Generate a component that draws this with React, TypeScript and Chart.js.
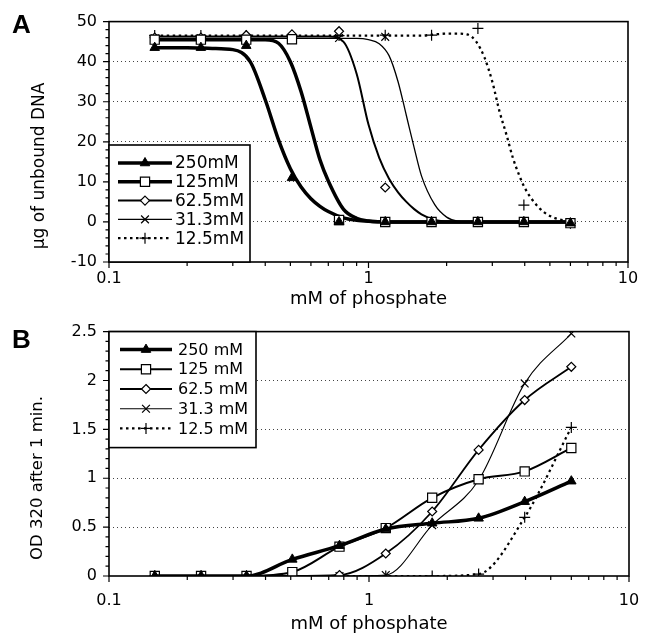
import React, { useEffect, useRef } from 'react';
import { Chart, registerables } from 'chart.js';

Chart.register(...registerables);

const FONT = "'DejaVu Sans', sans-serif";

// ---------- shared axis values ----------
const X_TICKS = [0.1, 1, 10];
const X_TICK_LABELS = ['0.1', '1', '10'];
const X_AXIS_TITLE = 'mM of phosphate';

// concentrations of the measured points
const X_POINTS = [0.15, 0.226, 0.338, 0.507, 0.77, 1.16, 1.75, 2.64, 3.97, 6.0];

// ---------- panel A ----------
const A_LEGEND = ['250mM', '125mM', '62.5mM', '31.3mM', '12.5mM'];
const A_Y_TICKS = [-10, 0, 10, 20, 30, 40, 50];
const A_Y_TICK_LABELS = ['-10', '0', '10', '20', '30', '40', '50'];
const A_Y_GRID = [0, 10, 20, 30, 40];
const A_Y_TITLE = 'µg of unbound DNA';

const A_P_250 = [43.5, 43.5, 44, 11, 0, 0, 0, 0, 0, -0.3];
const A_P_125 = [45.5, 45.5, 45.5, 45.6, 0.5, 0, 0, 0, 0, -0.3];
const A_P_62 = [46, 46, 46.6, 46.8, 47.6, 8.6, 0, 0, 0, -0.3];
const A_P_31 = [45.8, 45.8, 45.8, 45.5, 45.9, 46.2, 0, 0, 0, -0.3];
const A_P_12 = [46.5, 46.5, 46.5, 46.5, 46.5, 46.6, 46.6, 48.3, 4.2, -0.3];

// fitted curves
const A_CURVE_X = [0.15, 0.2, 0.25, 0.3, 0.35, 0.4, 0.45, 0.5, 0.55, 0.6, 0.65, 0.7, 0.8, 0.9, 1.0, 1.1, 1.2, 1.3, 1.4, 1.5, 1.6, 1.8, 2.0, 2.2, 2.4, 2.6, 2.8, 3.0, 3.2, 3.4, 3.6, 3.8, 4.0, 4.5, 5.0, 6.0];
const A_C_250 = [43.5, 43.5, 43.3, 43, 40, 30.5, 20.5, 13.3, 8.7, 5.8, 3.9, 2.6, 1.0, 0.4, 0.15, 0.05, 0, 0, 0, 0, 0, 0, 0, 0, 0, 0, 0, 0, 0, 0, 0, 0, 0, 0, 0, 0];
const A_C_125 = [45.5, 45.5, 45.5, 45.5, 45.5, 45.5, 44.6, 40, 32.5, 23.6, 15.5, 10.2, 3.2, 0.9, 0.25, 0.05, 0, 0, 0, 0, 0, 0, 0, 0, 0, 0, 0, 0, 0, 0, 0, 0, 0, 0, 0, 0];
const A_C_62 = [46.3, 46.3, 46.3, 46.3, 46.3, 46.3, 46.3, 46.3, 46.3, 46.3, 46.3, 46.3, 45, 37, 24.3, 16, 10.8, 7.4, 5.0, 3.2, 1.9, 0.5, 0.1, 0, 0, 0, 0, 0, 0, 0, 0, 0, 0, 0, 0, 0];
const A_C_31 = [45.8, 45.8, 45.8, 45.8, 45.8, 45.8, 45.8, 45.8, 45.8, 45.8, 45.8, 45.8, 45.8, 45.8, 45.5, 44.5, 41.5, 35, 26.5, 18.5, 11.5, 4.3, 1.2, 0.2, 0, 0, 0, 0, 0, 0, 0, 0, 0, 0, 0, 0];
const A_C_12 = [46.5, 46.5, 46.5, 46.5, 46.5, 46.5, 46.5, 46.5, 46.5, 46.5, 46.5, 46.5, 46.5, 46.5, 46.5, 46.5, 46.5, 46.5, 46.5, 46.5, 46.5, 46.8, 47, 47, 46.8, 45, 41, 35, 27.5, 21.8, 16, 11.8, 8.5, 3.8, 1.5, 0];

// ---------- panel B ----------
const B_LEGEND = ['250 mM', '125 mM', '62.5 mM', '31.3 mM', '12.5 mM'];
const B_Y_TICKS = [0, 0.5, 1, 1.5, 2, 2.5];
const B_Y_TICK_LABELS = ['0', '0.5', '1', '1.5', '2', '2.5'];
const B_Y_GRID = [0.5, 1, 1.5, 2];
const B_Y_TITLE = 'OD 320 after 1 min.';

const B_250 = [0, 0, 0, 0.17, 0.31, 0.48, 0.54, 0.59, 0.76, 0.97];
const B_125 = [0, 0, 0, 0.04, 0.3, 0.49, 0.8, 0.99, 1.07, 1.31];
const B_62 = [0, 0, 0, 0, 0.01, 0.23, 0.66, 1.29, 1.8, 2.14];
const B_31 = [0, 0, 0, 0, 0, 0.01, 0.52, 0.98, 1.97, 2.48];
const B_12 = [0, 0, 0, 0, 0, 0, 0, 0.02, 0.6, 1.52];

// ---------- styles ----------
type Marker = { style: string; radius: number; fill: string; width: number };
type LineStyle = { width: number; dash: number[] };

const MARKERS: Marker[] = [
  { style: 'triangle', radius: 5.5, fill: '#000', width: 1 },
  { style: 'rect', radius: 6.5, fill: '#fff', width: 1.2 },
  { style: 'rectRot', radius: 4.5, fill: '#fff', width: 1.2 },
  { style: 'crossRot', radius: 5.5, fill: '#fff', width: 1.2 },
  { style: 'cross', radius: 5.5, fill: '#fff', width: 1.2 },
];
const LINES_A: LineStyle[] = [
  { width: 3.5, dash: [] },
  { width: 3.5, dash: [] },
  { width: 2, dash: [] },
  { width: 1.3, dash: [] },
  { width: 2.3, dash: [2.5, 3.5] },
];
const LINES_B: LineStyle[] = [
  { width: 3.5, dash: [] },
  { width: 2, dash: [] },
  { width: 1.8, dash: [] },
  { width: 1.1, dash: [] },
  { width: 2.2, dash: [2.5, 3.5] },
];

function drawMarker(ctx: CanvasRenderingContext2D, m: Marker, x: number, y: number) {
  const r = m.radius;
  ctx.save();
  ctx.setLineDash([]);
  ctx.lineWidth = m.width;
  ctx.strokeStyle = '#000';
  ctx.fillStyle = m.fill;
  ctx.beginPath();
  if (m.style === 'triangle') {
    ctx.moveTo(x, y - r);
    ctx.lineTo(x + r * 0.866, y + r * 0.5);
    ctx.lineTo(x - r * 0.866, y + r * 0.5);
    ctx.closePath();
    ctx.fill();
    ctx.stroke();
  } else if (m.style === 'rect') {
    const s = r * Math.SQRT1_2;
    ctx.rect(x - s, y - s, 2 * s, 2 * s);
    ctx.fill();
    ctx.stroke();
  } else if (m.style === 'rectRot') {
    ctx.moveTo(x, y - r);
    ctx.lineTo(x + r, y);
    ctx.lineTo(x, y + r);
    ctx.lineTo(x - r, y);
    ctx.closePath();
    ctx.fill();
    ctx.stroke();
  } else if (m.style === 'crossRot') {
    const s = r * Math.SQRT1_2;
    ctx.moveTo(x - s, y - s);
    ctx.lineTo(x + s, y + s);
    ctx.moveTo(x - s, y + s);
    ctx.lineTo(x + s, y - s);
    ctx.stroke();
  } else {
    ctx.moveTo(x - r, y);
    ctx.lineTo(x + r, y);
    ctx.moveTo(x, y - r);
    ctx.lineTo(x, y + r);
    ctx.stroke();
  }
  ctx.restore();
}

const pts = (xs: number[], ys: number[]) => xs.map((x, i) => ({ x, y: ys[i] }));

type Decor = {
  letter: string;
  letterY: number;
  yTitle: string;
  yTitleX: number;
  yTitleY: number;
  yTitleSize: number;
  yMinorStep: number;
  legend: {
    labels: string[];
    lines: LineStyle[];
    anchorBottom: boolean;
    w: number;
    h: number;
    firstRow: number;
    rowGap: number;
    lineX0: number;
    lineX1: number;
    markerX: number;
    textX: number;
    fontSize: number;
  };
};

function makeDecorPlugin(d: Decor) {
  return {
    id: 'decor',
    afterDatasetsDraw(chart: any) {
      const ctx: CanvasRenderingContext2D = chart.ctx;
      const area = chart.chartArea;
      const xs = chart.scales.x;
      const ys = chart.scales.y;
      ctx.save();
      // frame
      ctx.setLineDash([]);
      ctx.strokeStyle = '#000';
      ctx.lineWidth = 1.6;
      ctx.strokeRect(area.left, area.top, area.right - area.left, area.bottom - area.top);

      // x ticks (log decades and minor)
      ctx.lineWidth = 1.2;
      ctx.beginPath();
      for (const dec of [0.1, 1]) {
        for (let m = 1; m <= 9; m++) {
          const px = xs.getPixelForValue(dec * m);
          const len = m === 1 ? 6 : 4;
          ctx.moveTo(px, area.bottom);
          ctx.lineTo(px, area.bottom + len);
        }
      }
      const p10 = xs.getPixelForValue(10);
      ctx.moveTo(p10, area.bottom);
      ctx.lineTo(p10, area.bottom + 6);
      // y ticks
      const yMin = ys.min;
      const yMax = ys.max;
      const n = Math.round((yMax - yMin) / d.yMinorStep);
      const majors = ys.ticks.map((t: any) => t.value);
      for (let i = 0; i <= n; i++) {
        const v = yMin + i * d.yMinorStep;
        const py = ys.getPixelForValue(v);
        const isMajor = majors.some((mv: number) => Math.abs(mv - v) < 1e-6);
        const len = isMajor ? 6 : 3.5;
        ctx.moveTo(area.left, py);
        ctx.lineTo(area.left - len, py);
      }
      ctx.stroke();

      // legend
      const L = d.legend;
      const bx = area.left;
      const by = L.anchorBottom ? area.bottom - L.h : area.top;
      ctx.fillStyle = '#fff';
      ctx.fillRect(bx, by, L.w, L.h);
      ctx.lineWidth = 1.6;
      ctx.strokeStyle = '#000';
      ctx.strokeRect(bx, by, L.w, L.h);
      ctx.font = `${L.fontSize}px ${FONT}`;
      ctx.textBaseline = 'middle';
      ctx.textAlign = 'left';
      L.labels.forEach((lab, i) => {
        const ry = by + L.firstRow + i * L.rowGap;
        const ls = L.lines[i];
        ctx.save();
        ctx.beginPath();
        ctx.lineWidth = ls.width;
        ctx.setLineDash(ls.dash);
        ctx.strokeStyle = '#000';
        ctx.moveTo(bx + L.lineX0, ry);
        ctx.lineTo(bx + L.lineX1, ry);
        ctx.stroke();
        ctx.restore();
        drawMarker(ctx, MARKERS[i], bx + L.markerX, ry);
        ctx.fillStyle = '#000';
        ctx.fillText(lab, bx + L.textX, ry + 1);
      });

      // y title
      ctx.save();
      ctx.font = `${d.yTitleSize}px ${FONT}`;
      ctx.fillStyle = '#000';
      ctx.textAlign = 'center';
      ctx.textBaseline = 'alphabetic';
      ctx.translate(d.yTitleX, d.yTitleY);
      ctx.rotate(-Math.PI / 2);
      ctx.fillText(d.yTitle, 0, 0);
      ctx.restore();

      // panel letter
      ctx.font = `bold 26px 'Liberation Sans', Arial, sans-serif`;
      ctx.fillStyle = '#000';
      ctx.textAlign = 'left';
      ctx.textBaseline = 'alphabetic';
      ctx.fillText(d.letter, 12, d.letterY);
      ctx.restore();
    },
  };
}

function baseOptions(opts: {
  padTop: number;
  padRight: number;
  xHeight: number;
  xLabelPad: number;
  xTitlePad: number;
  yMin: number;
  yMax: number;
  yTicks: number[];
  yTickLabels: string[];
  yGrid: number[];
}) {
  return {
    animation: false,
    responsive: false,
    devicePixelRatio: 1,
    layout: { padding: { top: opts.padTop, right: opts.padRight, bottom: 0, left: 0 } },
    plugins: { legend: { display: false }, tooltip: { enabled: false } },
    scales: {
      x: {
        type: 'logarithmic',
        min: 0.1,
        max: 10,
        afterFit: (s: any) => {
          s.height = opts.xHeight;
        },
        afterBuildTicks: (s: any) => {
          s.ticks = X_TICKS.map((v) => ({ value: v }));
        },
        ticks: {
          autoSkip: false,
          maxRotation: 0,
          padding: opts.xLabelPad,
          color: '#000',
          font: { family: FONT, size: 16 },
          callback: (_v: any, i: number) => X_TICK_LABELS[i],
        },
        grid: { display: false, drawTicks: false },
        border: { display: false },
        title: {
          display: true,
          text: X_AXIS_TITLE,
          color: '#000',
          font: { family: FONT, size: 18 },
          padding: { top: 0, bottom: opts.xTitlePad },
        },
      },
      y: {
        type: 'linear',
        min: opts.yMin,
        max: opts.yMax,
        afterFit: (s: any) => {
          s.width = 109;
        },
        afterBuildTicks: (s: any) => {
          s.ticks = opts.yTicks.map((v) => ({ value: v }));
        },
        ticks: {
          autoSkip: false,
          padding: 12,
          color: '#000',
          font: { family: FONT, size: 16 },
          callback: (_v: any, i: number) => opts.yTickLabels[i],
        },
        grid: {
          drawTicks: false,
          lineWidth: 1,
          color: (c: any) =>
            c.tick && opts.yGrid.some((g) => Math.abs(g - c.tick.value) < 1e-6) ? '#444' : 'rgba(0,0,0,0)',
        },
        border: { display: false, dash: [1, 3] },
      },
    },
  };
}

function configA() {
  const pointSets = [A_P_250, A_P_125, A_P_62, A_P_31, A_P_12].map((ys, i) => ({
    label: A_LEGEND[i],
    data: pts(X_POINTS, ys),
    showLine: false,
    pointStyle: MARKERS[i].style,
    pointRadius: MARKERS[i].radius,
    pointBackgroundColor: MARKERS[i].fill,
    pointBorderColor: '#000',
    pointBorderWidth: MARKERS[i].width,
  }));
  const curveSets = [A_C_250, A_C_125, A_C_62, A_C_31, A_C_12].map((ys, i) => ({
    label: A_LEGEND[i] + ' fit',
    data: pts(A_CURVE_X, ys),
    showLine: true,
    pointRadius: 0,
    borderColor: '#000',
    borderWidth: LINES_A[i].width,
    borderDash: LINES_A[i].dash,
    cubicInterpolationMode: 'monotone',
  }));
  return {
    type: 'scatter',
    data: { datasets: [...pointSets, ...curveSets] },
    options: baseOptions({
      padTop: 15,
      padRight: 29,
      xHeight: 48,
      xLabelPad: 7,
      xTitlePad: 0,
      yMin: -10,
      yMax: 50,
      yTicks: A_Y_TICKS,
      yTickLabels: A_Y_TICK_LABELS,
      yGrid: A_Y_GRID,
    }),
    plugins: [
      makeDecorPlugin({
        letter: 'A',
        letterY: 33,
        yTitle: A_Y_TITLE,
        yTitleX: 44,
        yTitleY: 166,
        yTitleSize: 17,
        yMinorStep: 2,
        legend: {
          labels: A_LEGEND,
          lines: LINES_A,
          anchorBottom: true,
          w: 141,
          h: 117,
          firstRow: 18,
          rowGap: 18.8,
          lineX0: 9,
          lineX1: 63,
          markerX: 36,
          textX: 66,
          fontSize: 17,
        },
      }),
    ],
  };
}

function configB() {
  const sets = [B_250, B_125, B_62, B_31, B_12].map((ys, i) => ({
    label: B_LEGEND[i],
    data: pts(X_POINTS, ys),
    showLine: true,
    borderColor: '#000',
    borderWidth: LINES_B[i].width,
    borderDash: LINES_B[i].dash,
    cubicInterpolationMode: 'monotone',
    pointStyle: MARKERS[i].style,
    pointRadius: MARKERS[i].radius,
    pointBackgroundColor: MARKERS[i].fill,
    pointBorderColor: '#000',
    pointBorderWidth: MARKERS[i].width,
  }));
  return {
    type: 'scatter',
    data: { datasets: sets },
    options: baseOptions({
      padTop: 20,
      padRight: 28,
      xHeight: 61,
      xLabelPad: 15,
      xTitlePad: 2,
      yMin: 0,
      yMax: 2.5,
      yTicks: B_Y_TICKS,
      yTickLabels: B_Y_TICK_LABELS,
      yGrid: B_Y_GRID,
    }),
    plugins: [
      makeDecorPlugin({
        letter: 'B',
        letterY: 38,
        yTitle: B_Y_TITLE,
        yTitleX: 42,
        yTitleY: 168,
        yTitleSize: 16.5,
        yMinorStep: 0.1,
        legend: {
          labels: B_LEGEND,
          lines: LINES_B,
          anchorBottom: false,
          w: 147,
          h: 116,
          firstRow: 18,
          rowGap: 19.7,
          lineX0: 11,
          lineX1: 63,
          markerX: 37,
          textX: 69,
          fontSize: 16,
        },
      }),
    ],
  };
}

function Panel({ make, top, height }: { make: () => any; top: number; height: number }) {
  const ref = useRef<HTMLCanvasElement>(null);
  useEffect(() => {
    const chart = new Chart(ref.current as HTMLCanvasElement, make());
    return () => chart.destroy();
  }, []);
  return (
    <canvas
      ref={ref}
      width={657}
      height={height}
      style={{ position: 'absolute', left: 0, top, width: 657, height, display: 'block' }}
    />
  );
}

export default function App() {
  return (
    <div style={{ position: 'absolute', left: 0, top: 0, width: 657, height: 637, background: '#fff' }}>
      <Panel make={configA} top={0} height={310} />
      <Panel make={configB} top={310} height={327} />
    </div>
  );
}
